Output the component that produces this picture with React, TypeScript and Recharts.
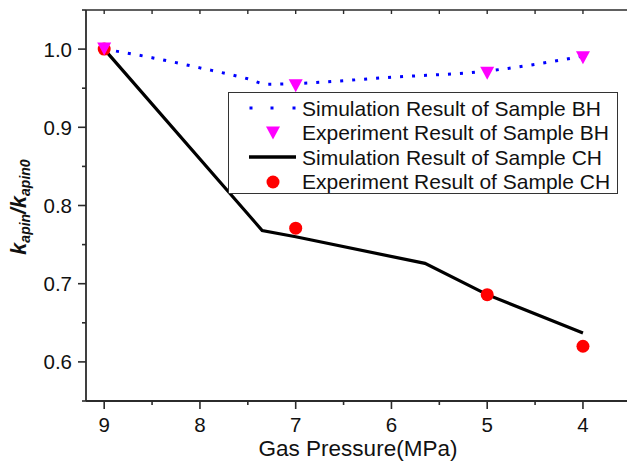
import React from 'react';
import { ComposedChart, Line, XAxis, YAxis, Legend } from 'recharts';

// simulated curves (pressure in MPa, normalized permeability)
const bhSimPressure = [9, 8.5, 8, 7.5, 7.3, 7, 6, 5, 4];
const bhSimValue = [1.0, 0.989, 0.976, 0.962, 0.955, 0.956, 0.964, 0.972, 0.991];
const chSimPressure = [9, 7.35, 7, 5.65, 5, 4];
const chSimValue = [1.0, 0.768, 0.76, 0.726, 0.686, 0.637];

// experiment points
const expPressure = [9, 7, 5, 4];
const bhExpValue = [1.0, 0.953, 0.969, 0.989];
const chExpValue = [1.0, 0.771, 0.686, 0.62];

const xTicks = [9, 8.5, 8, 7.5, 7, 6.5, 6, 5.5, 5, 4.5, 4];
const yTicks = [0.55, 0.6, 0.65, 0.7, 0.75, 0.8, 0.85, 0.9, 0.95, 1.0, 1.05];

const legendLabels = [
  'Simulation Result of Sample BH',
  'Experiment Result of Sample BH',
  'Simulation Result of Sample CH',
  'Experiment Result of Sample CH',
];

const toPoints = (xs: number[], ys: number[]) => xs.map((x, i) => ({ x, y: ys[i] }));

const bhSim = toPoints(bhSimPressure, bhSimValue);
const chSim = toPoints(chSimPressure, chSimValue);
const bhExp = toPoints(expPressure, bhExpValue);
const chExp = toPoints(expPressure, chExpValue);

const FONT = '"Liberation Sans", Arial, sans-serif';
const AXIS = '#2b2b2b';
const FS = 20.5;

const XTick = (props: any) => {
  const { x, y, payload } = props;
  const major = Number.isInteger(payload.value);
  return (
    <g>
      <line x1={x} x2={x} y1={y} y2={y + (major ? 8 : 4)} stroke={AXIS} strokeWidth={1.6} />
      {major && (
        <text x={x} y={y + 31} textAnchor="middle" fontSize={FS} fontFamily={FONT} fill="#111">
          {payload.value}
        </text>
      )}
    </g>
  );
};

const TopTick = (props: any) => {
  const { x, y } = props;
  return <line x1={x} x2={x} y1={y} y2={y + 4} stroke={AXIS} strokeWidth={1.4} />;
};

const YTick = (props: any) => {
  const { x, y, payload } = props;
  const major = Math.round(payload.value * 100) % 10 === 0;
  return (
    <g>
      <line x1={x} x2={x - (major ? 8 : 4)} y1={y} y2={y} stroke={AXIS} strokeWidth={1.6} />
      {major && (
        <text x={x - 14} y={y + 7.5} textAnchor="end" fontSize={FS} fontFamily={FONT} fill="#111">
          {payload.value.toFixed(1)}
        </text>
      )}
    </g>
  );
};

const YLabel = () => (
  <text
    transform="translate(26, 207) rotate(-90)"
    textAnchor="middle"
    fontFamily={FONT}
    fontWeight="bold"
    fontStyle="italic"
    fill="#111"
  >
    <tspan fontSize={21.5}>k</tspan>
    <tspan fontSize={14} dy={4}>apin</tspan>
    <tspan fontSize={21.5} dy={-4}>/k</tspan>
    <tspan fontSize={14} dy={4}>apin0</tspan>
  </text>
);

const XLabel = () => (
  <text x={358} y={456} textAnchor="middle" fontSize={22.5} fontFamily={FONT} fill="#111">
    Gas Pressure(MPa)
  </text>
);

const Triangle = (props: any) => {
  const { cx, cy } = props;
  if (cx == null || cy == null) return null;
  return <path d={`M${cx - 7},${cy - 6.5} L${cx + 7},${cy - 6.5} L${cx},${cy + 6.5} Z`} fill="#ff00ff" />;
};

const Circle = (props: any) => {
  const { cx, cy } = props;
  if (cx == null || cy == null) return null;
  return <circle cx={cx} cy={cy} r={6.5} fill="#ff0000" />;
};

const LegendSymbol = ({ index }: { index: number }) => (
  <svg width={62} height={20} style={{ display: 'block', flex: 'none' }}>
    {index === 0 && [11, 32, 54].map((d) => <rect key={d} x={d - 1.5} y={8.5} width={3} height={3} fill="#0000ff" />)}
    {index === 1 && <path d="M26,3.5 L40,3.5 L33,16.5 Z" fill="#ff00ff" />}
    {index === 2 && <line x1={9} x2={56} y1={10} y2={10} stroke="#000" strokeWidth={3.5} />}
    {index === 3 && <circle cx={33} cy={10} r={6.5} fill="#ff0000" />}
  </svg>
);

const BoxLegend = () => (
  <div
    style={{
      boxSizing: 'border-box',
      width: 390,
      height: 102,
      border: '1.3px solid #333',
      background: '#fff',
      padding: '3px 0 0 11px',
      fontFamily: FONT,
      fontSize: 21,
      lineHeight: 1,
      color: '#111',
      textAlign: 'left',
    }}
  >
    {legendLabels.map((label, i) => (
      <div key={label} style={{ display: 'flex', alignItems: 'center', height: 24.5 }}>
        <LegendSymbol index={i} />
        <span style={{ whiteSpace: 'nowrap' }}>{label}</span>
      </div>
    ))}
  </div>
);

export default function App() {
  return (
    <div style={{ position: 'absolute', left: 0, top: 0, background: '#fff' }}>
      <ComposedChart width={627} height={462} margin={{ top: 0, right: 0, bottom: 0, left: 0 }}>
        <XAxis
          xAxisId="top"
          orientation="top"
          type="number"
          dataKey="x"
          domain={[3.54, 9.19]}
          reversed
          allowDataOverflow
          height={10}
          ticks={xTicks}
          interval={0}
          tickSize={0}
          tickMargin={0}
          tickLine={false}
          tick={TopTick}
          axisLine={{ stroke: AXIS, strokeWidth: 1.6 }}
        />
        <XAxis
          type="number"
          dataKey="x"
          domain={[3.54, 9.19]}
          reversed
          allowDataOverflow
          height={61}
          ticks={xTicks}
          interval={0}
          tickSize={0}
          tickMargin={0}
          tickLine={false}
          tick={XTick}
          axisLine={{ stroke: AXIS, strokeWidth: 1.8 }}
          label={{ content: XLabel }}
        />
        <YAxis
          type="number"
          dataKey="y"
          domain={[0.55, 1.05]}
          allowDataOverflow
          width={86}
          ticks={yTicks}
          interval={0}
          tickSize={0}
          tickMargin={0}
          tickLine={false}
          tick={YTick}
          axisLine={{ stroke: AXIS, strokeWidth: 1.8 }}
          label={{ content: YLabel }}
        />
        <Line
          data={bhSim}
          dataKey="y"
          type="monotone"
          stroke="#0000ff"
          strokeWidth={3}
          strokeDasharray="3 9"
          dot={false}
          isAnimationActive={false}
        />
        <Line
          data={chSim}
          dataKey="y"
          type="linear"
          stroke="#000"
          strokeWidth={3.2}
          dot={false}
          isAnimationActive={false}
        />
        <Line
          data={chExp}
          dataKey="y"
          stroke="none"
          dot={<Circle />}
          activeDot={false}
          isAnimationActive={false}
        />
        <Line
          data={bhExp}
          dataKey="y"
          stroke="none"
          dot={<Triangle />}
          activeDot={false}
          isAnimationActive={false}
        />
        <Legend
          layout="horizontal"
          verticalAlign="middle"
          align="center"
          content={BoxLegend}
          wrapperStyle={{ left: 228, top: 92, width: 390, height: 102 }}
        />
      </ComposedChart>
    </div>
  );
}
